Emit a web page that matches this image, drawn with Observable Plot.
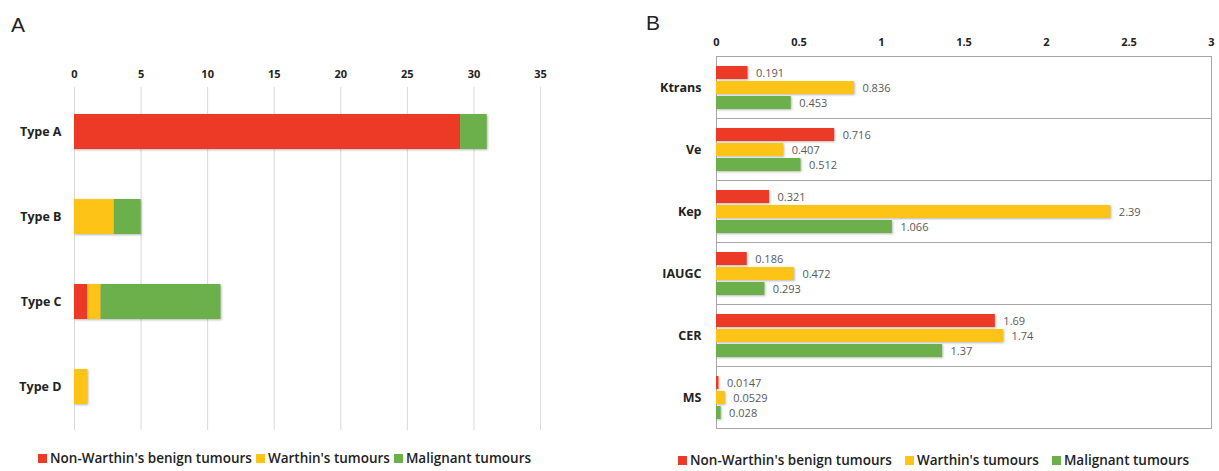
<!DOCTYPE html>
<html>
<head>
<meta charset="utf-8">
<script src="https://cdn.jsdelivr.net/npm/d3@7"></script>
<script src="https://cdn.jsdelivr.net/npm/@observablehq/plot@0.6"></script>
<style>
  html, body { margin: 0; padding: 0; background: #fff; }
  #wrap { position: relative; width: 1219px; height: 471px; overflow: hidden; font-family: "Open Sans", sans-serif; }
  .panel { position: absolute; top: 0; }
  .letter { position: absolute; font-family: "Liberation Sans", Arial, sans-serif; font-size: 21px; color: #222; line-height: 1; }
  .legend { position: absolute; font-family: "Open Sans", sans-serif; font-size: 13.5px; font-weight: 600; color: #222; white-space: nowrap; display: flex; align-items: center; }
  .legend .item { display: inline-flex; align-items: center; }
  .legend .sw { display: inline-block; width: 9px; height: 9px; margin-right: 3px; }
  .bars rect { filter: drop-shadow(1px 1.5px 1px rgba(0,0,0,0.28)); }
</style>
</head>
<body>
<div id="wrap">
  <div class="letter" style="left:11px; top:14px;">A</div>
  <div class="letter" style="left:646px; top:12px;">B</div>
  <div id="panelA" class="panel" style="left:0px;"></div>
  <div id="panelB" class="panel" style="left:600px;"></div>
  <div id="legendA" class="legend" style="left:38px; top:449px;"></div>
  <div id="legendB" class="legend" style="left:678px; top:451px;"></div>
</div>
<script>
// ---- shared series ----
const seriesNames = ["Non-Warthin's benign tumours", "Warthin's tumours", "Malignant tumours"];
const seriesColors = ["#ec3a26", "#fdc317", "#6bb04a"];

// ---- Panel A data (counts per type) ----
const typeCategories = ["Type A", "Type B", "Type C", "Type D"];
const aNonWarthin = [29, 0, 1, 0];
const aWarthin = [0, 3, 1, 1];
const aMalignant = [2, 2, 9, 0];
const aTicks = [0, 5, 10, 15, 20, 25, 30, 35];

// ---- Panel B data (parameters) ----
const metricCategories = ["Ktrans", "Ve", "Kep", "IAUGC", "CER", "MS"];
const bNonWarthin = [0.191, 0.716, 0.321, 0.186, 1.69, 0.0147];
const bWarthin = [0.836, 0.407, 2.39, 0.472, 1.74, 0.0529];
const bMalignant = [0.453, 0.512, 1.066, 0.293, 1.37, 0.028];
const bTicks = [0, 0.5, 1, 1.5, 2, 2.5, 3];

// build tables
const aSeries = [aNonWarthin, aWarthin, aMalignant];
const dataA = [];
typeCategories.forEach((t, i) => {
  seriesNames.forEach((s, j) => dataA.push({type: t, series: s, value: aSeries[j][i]}));
});
const bSeries = [bNonWarthin, bWarthin, bMalignant];
const dataB = [];
metricCategories.forEach((m, i) => {
  seriesNames.forEach((s, j) => dataB.push({metric: m, series: s, value: bSeries[j][i]}));
});

const color = {domain: seriesNames, range: seriesColors};

// ---- Panel A ----
const plotA = Plot.plot({
  width: 600,
  height: 440,
  marginLeft: 74,
  marginRight: 60,
  marginTop: 87,
  marginBottom: 10,
  style: {fontFamily: "'Open Sans', sans-serif", fontSize: "11px", color: "#222", background: "transparent"},
  x: {domain: [0, 35], axis: null},
  y: {domain: typeCategories, paddingInner: 0.59, paddingOuter: 0.3, axis: null},
  color,
  marks: [
    Plot.gridX(aTicks, {stroke: "#d9d9d9", strokeOpacity: 1}),
    Plot.axisX(aTicks, {anchor: "top", tickSize: 0, tickPadding: 10, fontWeight: "bold", fontSize: 11, label: null}),
    Plot.axisY({tickSize: 0, tickPadding: 13, fontWeight: "bold", fontSize: 12.5, label: null}),
    Plot.barX(dataA, Plot.stackX({x: "value", y: "type", fill: "series", order: seriesNames, className: "bars"}))
  ]
});
document.getElementById("panelA").appendChild(plotA);

// ---- Panel B ----
const plotB = Plot.plot({
  width: 619,
  height: 440,
  marginLeft: 116,
  marginRight: 8,
  marginTop: 53,
  marginBottom: 10,
  style: {fontFamily: "'Open Sans', sans-serif", fontSize: "11px", color: "#222", background: "transparent"},
  x: {domain: [0, 3], axis: null},
  y: {domain: seriesNames, paddingInner: 0.16, paddingOuter: 0.54, axis: null},
  fy: {domain: metricCategories, padding: 0, axis: null},
  color,
  marks: [
    Plot.frame({stroke: "#a6a6a6", strokeWidth: 1}),
    Plot.axisX(bTicks, {anchor: "top", tickSize: 0, tickPadding: 11, fontWeight: "bold", fontSize: 11, label: null, tickFormat: d => String(d)}),
    Plot.axisFy({anchor: "left", tickSize: 0, tickPadding: 15, fontWeight: "bold", fontSize: 12.5, label: null}),
    Plot.barX(dataB, {x: "value", y: "series", fy: "metric", fill: "series", className: "bars"}),
    Plot.text(dataB, {x: "value", y: "series", fy: "metric", text: d => String(d.value), dx: 8, textAnchor: "start", fill: "#595959", fontSize: 11, fontWeight: "normal"})
  ]
});
document.getElementById("panelB").appendChild(plotB);

// ---- legends ----
function legend(el, gap) {
  seriesNames.forEach((s, i) => {
    const it = document.createElement("span");
    it.className = "item";
    if (i > 0) it.style.marginLeft = gap + "px";
    const sw = document.createElement("span");
    sw.className = "sw";
    sw.style.background = seriesColors[i];
    it.appendChild(sw);
    it.appendChild(document.createTextNode(s));
    el.appendChild(it);
  });
}
legend(document.getElementById("legendA"), 4);
legend(document.getElementById("legendB"), 13);
</script>
</body>
</html>
